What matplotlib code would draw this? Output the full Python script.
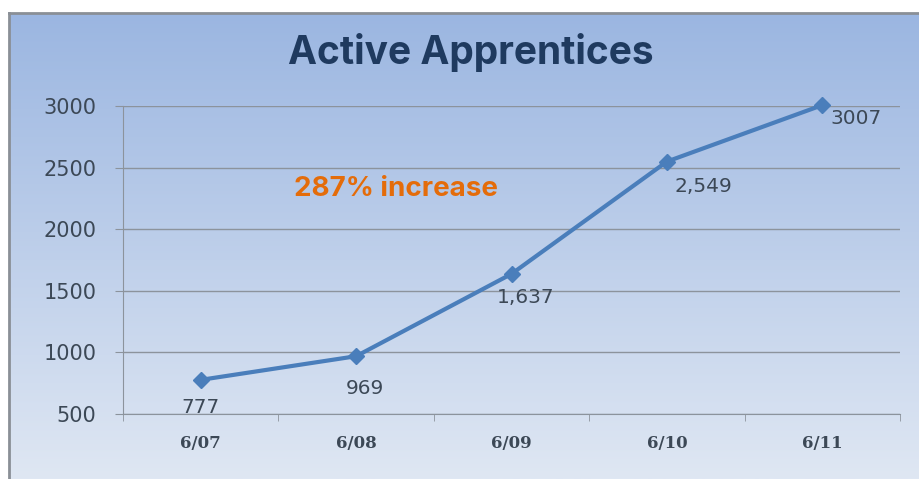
import numpy as np
import matplotlib
matplotlib.use("Agg")
import matplotlib.pyplot as plt
from matplotlib.colors import LinearSegmentedColormap

# data
periods = ["6/07", "6/08", "6/09", "6/10", "6/11"]
apprentices = [777, 969, 1637, 2549, 3007]
point_labels = ["777", "969", "1,637", "2,549", "3007"]
label_offsets = [(0, -28), (9, -32), (14, -24), (36, -25), (34, -13)]  # pixels
yticks = [500, 1000, 1500, 2000, 2500, 3000]

W, H = 919, 479
fig = plt.figure(figsize=(W / 100, H / 100), dpi=100, facecolor="white")

# gradient panel behind everything
bg = fig.add_axes([9 / W, 0, 1 - 9 / W, 1 - 13 / H], zorder=0)
cmap = LinearSegmentedColormap.from_list("bg", ["#dfe7f3", "#9bb6e1"])
grad = np.linspace(0, 1, 256).reshape(-1, 1)
bg.imshow(grad, aspect="auto", cmap=cmap, origin="lower", extent=[0, 1, 0, 1])
bg.set_xlim(0, 1)
bg.set_ylim(0, 1)
bg.set_xticks([])
bg.set_yticks([])
for side in ["right", "bottom"]:
    bg.spines[side].set_visible(False)
for side in ["left", "top"]:
    bg.spines[side].set_color("#8a8f96")
    bg.spines[side].set_linewidth(2)

ax = fig.add_axes([123 / W, 1 - 414 / H, (900 - 123) / W, (414 - 106) / H], zorder=1)
ax.patch.set_alpha(0)

x = np.arange(len(periods))
ax.plot(x, apprentices, color="#4a7ebb", linewidth=3, marker="D",
        markersize=8, markerfacecolor="#4a7ebb", markeredgecolor="#4a7ebb",
        zorder=3, clip_on=False)

for xi, yi, txt, off in zip(x, apprentices, point_labels, label_offsets):
    ax.annotate(txt, (xi, yi), xytext=off, textcoords="offset pixels",
                ha="center", va="center", fontsize=14.5, color="#3c4856",
                family="DejaVu Sans", annotation_clip=False)

ax.set_xlim(-0.5, len(periods) - 0.5)
ax.set_ylim(500, 3000)
ax.set_yticks(yticks)
ax.set_yticklabels([str(v) for v in yticks], fontsize=15, color="#3c4856",
                   family="DejaVu Sans")
ax.yaxis.grid(True, color="#8c939c", linewidth=1)
ax.set_axisbelow(True)

ax.set_xticks(x)
ax.set_xticklabels(periods, fontsize=12, fontweight="bold", color="#3c4856",
                   family="DejaVu Serif")
ax.set_xticks(np.arange(len(periods) + 1) - 0.5, minor=True)
ax.tick_params(axis="x", which="major", length=0, pad=15)
ax.tick_params(axis="x", which="minor", length=5, color="#8c939c", direction="out")
ax.tick_params(axis="y", length=6, color="#8c939c", direction="out", pad=13)

for side in ["top", "right"]:
    ax.spines[side].set_visible(False)
ax.spines["left"].set_color("#8c939c")
ax.spines["bottom"].set_color("#8c939c")

fig.text(471 / W, 1 - 53 / H, "Active Apprentices", ha="center", va="center",
         fontsize=28, fontweight="bold", color="#1f3a5f", family="Inter")
fig.text(396 / W, 1 - 189 / H, "287% increase", ha="center", va="center",
         fontsize=20, fontweight="bold", color="#e46c0a", family="Inter")

fig.savefig("out.png", dpi=100, facecolor="white")
